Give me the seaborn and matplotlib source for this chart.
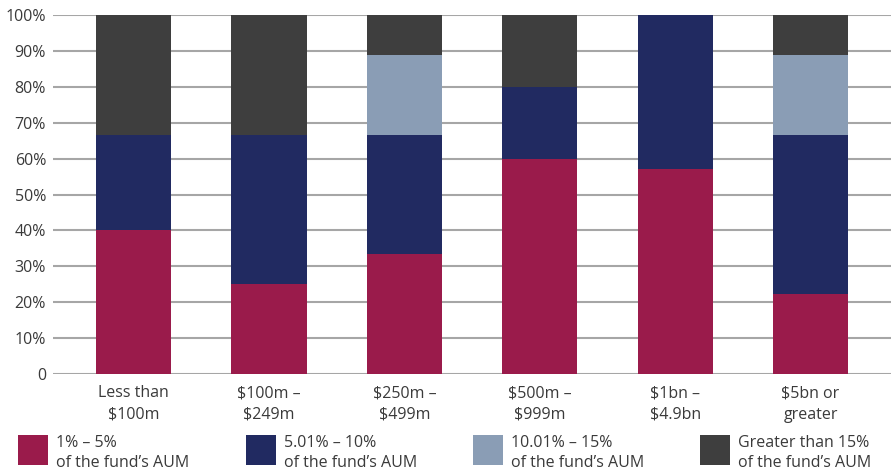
import matplotlib
matplotlib.use('Agg')
import matplotlib.pyplot as plt
import numpy as np
import pandas as pd
import seaborn as sns
from matplotlib.patches import Patch, Rectangle
from matplotlib.legend_handler import HandlerPatch

# Fund size buckets and share of answers per allocation band
categories = ['Less than\n$100m', '$100m –\n$249m', '$250m –\n$499m',
  '$500m –\n$999m', '$1bn –\n$4.9bn', '$5bn or\ngreater']
band_1_5 = [40.0, 25.0, 33.3, 60.0, 57.1, 22.2]
band_5_10 = [26.7, 41.7, 33.3, 20.0, 42.9, 44.4]
band_10_15 = [0.0, 0.0, 22.2, 0.0, 0.0, 22.2]
band_15_plus = [33.3, 33.3, 11.2, 20.0, 0.0, 11.2]

series_labels = ['1% – 5%\nof the fund’s AUM', '5.01% – 10%\nof the fund’s AUM',
  '10.01% – 15%\nof the fund’s AUM', 'Greater than 15%\nof the fund’s AUM']
colors = ['#9a1b4b', '#212a61', '#8a9db5', '#3e3e3e']
text_color = '#3a3a3a'

sns.set_style('white')
plt.rcParams['font.family'] = ['Open Sans', 'DejaVu Sans']

df = pd.DataFrame({
  'size': categories,
  'b1': band_1_5,
  'b2': band_5_10,
  'b3': band_10_15,
  'b4': band_15_plus,
})
cols = ['b1', 'b2', 'b3', 'b4']
cum = df[cols].cumsum(axis=1)

fig = plt.figure(figsize=(8.93, 4.72), dpi=100)
ax = fig.add_axes([0.0594, 0.2076, 0.9386, 0.7606])

# stacked bars: draw the cumulative totals from the top layer down
for col, color in reversed(list(zip(cols, colors))):
  sns.barplot(x=df['size'], y=cum[col].clip(upper=100), color=color, width=0.556,
    saturation=1, ax=ax, zorder=3, linewidth=0)

ax.set_xlim(-0.596, 5.596)
ax.set_ylim(0, 100)
ticks = np.arange(0, 101, 10)
ax.set_yticks(ticks)
ax.set_yticklabels(['0'] + [f'{t}%' for t in ticks[1:]])
ax.yaxis.grid(True, color='#a6a6a6', linewidth=1.5, zorder=0)
ax.set_axisbelow(True)
ax.set_xlabel('')
ax.set_ylabel('')
for s in ax.spines.values():
  s.set_visible(False)
ax.tick_params(axis='both', length=0, labelsize=11.5, colors=text_color)
ax.tick_params(axis='y', pad=5)
ax.tick_params(axis='x', pad=8)
for lbl in ax.get_xticklabels():
  lbl.set_linespacing(1.45)

# square legend keys that span both lines of the label
def square_key(legend, orig_handle, xdescent, ydescent, width, height, fontsize):
  return Rectangle((-xdescent, -4.4), width, 21.6)

handles = [Patch(facecolor=c, edgecolor='none') for c in colors]
leg = fig.legend(handles, series_labels, loc='lower left', ncol=4,
  bbox_to_anchor=(0.0135, -0.0115, 0.969, 0.1), mode='expand', frameon=False,
  handlelength=1.88, handleheight=1.0, handletextpad=0.5, borderaxespad=0,
  fontsize=11.5, labelcolor=text_color,
  handler_map={Patch: HandlerPatch(patch_func=square_key)})
for t in leg.get_texts():
  t.set_linespacing(1.3)

fig.savefig('out.png', dpi=100)
